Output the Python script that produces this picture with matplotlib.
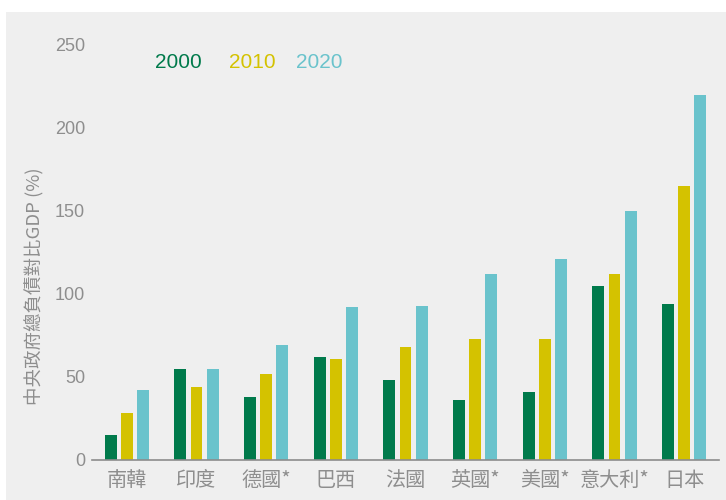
import matplotlib
matplotlib.use("Agg")
import matplotlib.pyplot as plt
import numpy as np
from matplotlib.patches import Rectangle

countries = ["南韓", "印度", "德國*", "巴西", "法國", "英國*", "美國*", "意大利*", "日本"]
years = ["2000", "2010", "2020"]
v2000 = [15, 55, 38, 62, 48, 36, 41, 105, 94]
v2010 = [28, 44, 52, 61, 68, 73, 73, 112, 165]
v2020 = [42, 55, 69, 92, 93, 112, 121, 150, 220]
yticks = [0, 50, 100, 150, 200, 250]

colors = ["#007A4B", "#D4C200", "#6AC3CC"]
bg = "#EFEFEF"
txt = "#8E8E8E"

plt.rcParams['font.family'] = ['Noto Sans CJK TC', 'DejaVu Sans']

fig = plt.figure(figsize=(7.26, 5.0), dpi=100)
fig.patches.append(Rectangle((6/726, 0), 1 - 6/726, (500-12)/500, transform=fig.transFigure,
                             facecolor=bg, edgecolor='none', zorder=-10))
ax = fig.add_axes([92/726, 1 - 460/500, (719-92)/726, (460-44.7)/500])
ax.set_facecolor('none')
ax.set_zorder(5)

x = np.arange(len(countries))
w = 0.172
step = 0.232
for i, (vals, c) in enumerate(zip([v2000, v2010, v2020], colors)):
    ax.bar(x + (i - 1) * step, vals, width=w, color=c, edgecolor='none', zorder=2)

ax.set_xlim(-0.5, len(countries) - 0.5)
ax.set_ylim(0, 250)
ax.set_yticks(yticks)
ax.set_yticklabels([str(t) for t in yticks], family=['Liberation Sans'], fontsize=13, color=txt)
ax.set_xticks(x)
ax.set_xticklabels(countries, fontsize=14.5, color=txt)
ax.tick_params(axis='both', length=0)
ax.tick_params(axis='y', pad=5)
ax.tick_params(axis='x', pad=7)
for s in ['top', 'right', 'left']:
    ax.spines[s].set_visible(False)
ax.spines['bottom'].set_color('#8C8C8C')
ax.spines['bottom'].set_linewidth(1.2)

ax.set_ylabel("中央政府總負債對比GDP (%)", fontsize=13.3, color=txt)
ax.yaxis.set_label_coords(-(92-44)/627, (460-286)/415.3)

lx = [155, 229, 296]
for yr, c, px in zip(years, colors, lx):
    fig.text(px/726, 1 - 62/500, yr, color=c, fontsize=15, family=['Liberation Sans'],
             ha='left', va='center')

fig.savefig("out.png", dpi=100, facecolor='white')
